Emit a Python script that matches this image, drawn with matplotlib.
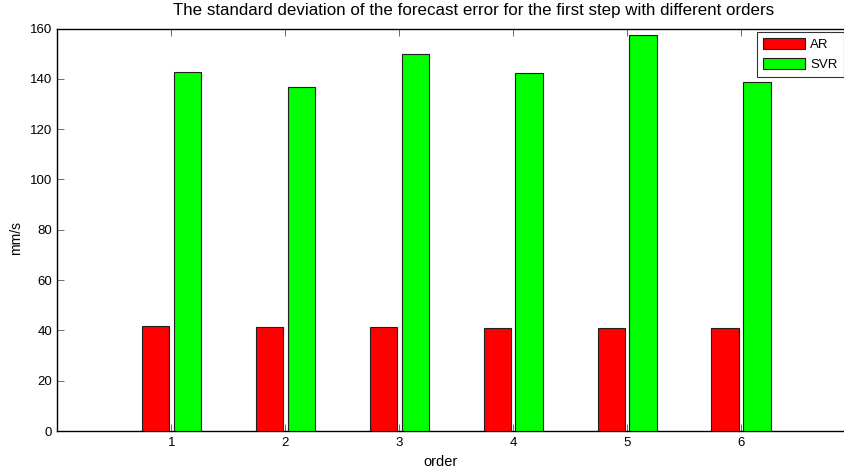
import matplotlib
matplotlib.use("Agg")
import matplotlib.pyplot as plt
import numpy as np

plt.rcParams['font.family'] = ['Liberation Sans', 'DejaVu Sans']

orders = [1, 2, 3, 4, 5, 6]
ar_std = [41.8, 41.3, 41.2, 40.9, 40.9, 40.8]
svr_std = [142.7, 136.8, 150.0, 142.2, 157.4, 138.8]
series_names = ['AR', 'SVR']
y_ticks = [0, 20, 40, 60, 80, 100, 120, 140, 160]

W, H = 845, 474
fig = plt.figure(figsize=(W / 100, H / 100), dpi=100)
# axes box in pixels: left 57.5, right 855 (x = 0..7), top 28.5, bottom 431
left, right, top, bottom = 57.5, 855.0, 28.5, 431.0
ax = fig.add_axes([left / W, 1 - bottom / H, (right - left) / W, (bottom - top) / H])

x = np.array(orders, dtype=float)
bw = 0.24
ax.bar(x - 0.14, ar_std, width=bw, color='#ff0000', edgecolor='#202020',
       linewidth=0.8, label=series_names[0], zorder=3)
ax.bar(x + 0.14, svr_std, width=bw, color='#00ff00', edgecolor='#202020',
       linewidth=0.8, label=series_names[1], zorder=3)

ax.set_xlim(0, 7)
ax.set_ylim(0, 160)
ax.set_xticks(orders)
ax.set_yticks(y_ticks)
ax.tick_params(direction='in', length=5, width=0.6, color='#555555',
               labelsize=9.5, top=True, right=True, pad=4)
for s in ax.spines.values():
    s.set_linewidth(1.0)
    s.set_color('black')

fig.text(473.5 / W, 1 - 11 / H,
         'The standard deviation of the forecast error for the first step with different orders',
         ha='center', va='center', fontsize=12.2)
fig.text(441 / W, 1 - 462 / H, 'order', ha='center', va='center', fontsize=10.5)
fig.text(16 / W, 1 - 238 / H, 'mm/s', ha='center', va='center', fontsize=10, rotation=90)

leg = ax.legend(loc='upper left', bbox_to_anchor=(757 / W, 1 - 32 / H),
                bbox_transform=fig.transFigure, fontsize=9.5, frameon=True,
                fancybox=False, edgecolor='black', borderpad=0.45,
                handlelength=3.2, handleheight=0.95, handletextpad=0.4,
                labelspacing=0.5, borderaxespad=0)
leg.get_frame().set_linewidth(0.8)

fig.savefig('out.png', dpi=100)
